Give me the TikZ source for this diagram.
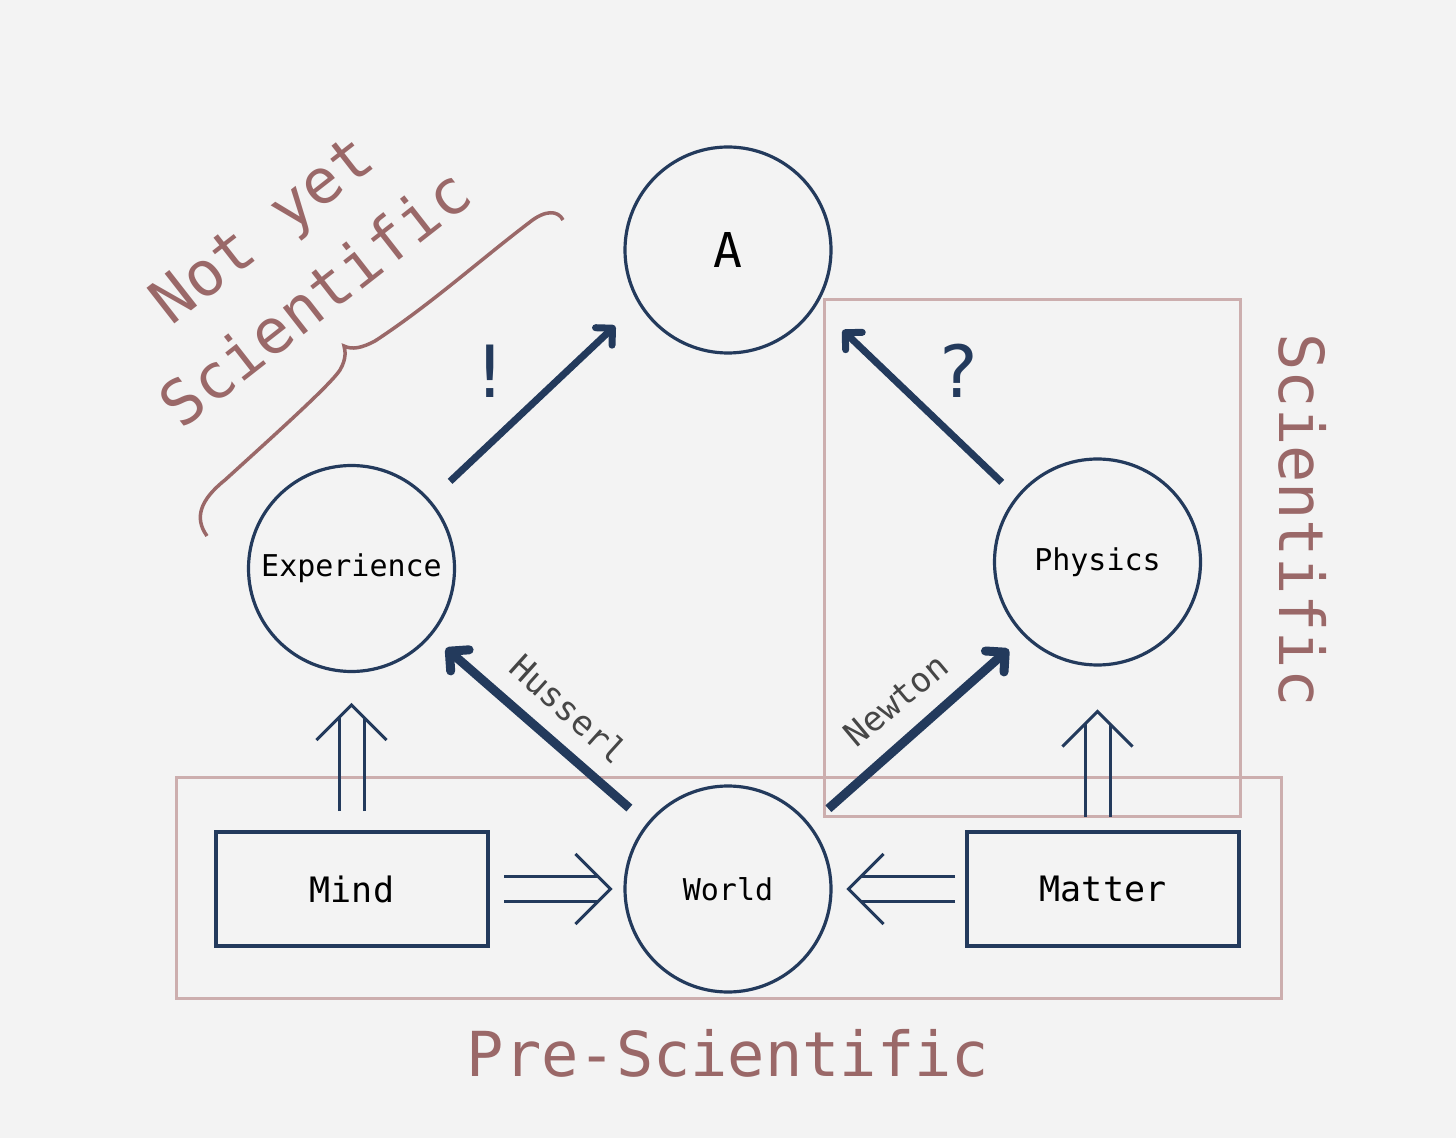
\documentclass[tikz,border=0pt]{standalone}
\usepackage{fontspec}
\setmainfont{DejaVu Sans Mono}
\usetikzlibrary{arrows.meta,calc}

\definecolor{navy}{RGB}{35,58,92}
\definecolor{rosetext}{RGB}{154,104,104}
\definecolor{roseline}{RGB}{204,174,174}
\definecolor{bgc}{RGB}{243,243,243}
\definecolor{labelgrey}{RGB}{70,70,70}

\tikzset{every picture/.style={line width=0.75pt}}
\tikzset{
  circ/.style={circle, draw=navy, line width=1.6pt, minimum size=103pt, inner sep=0pt, font=\fontsize{15}{18}\selectfont},
  boxn/.style={draw=navy, line width=2pt, minimum width=136pt, minimum height=57pt, inner sep=0pt, font=\fontsize{17.5}{21}\selectfont},
  thk/.style={draw=navy, line width=3.5pt, -{Straight Barb[round,length=6pt,width=12pt]}},
  thkr/.style={draw=navy, line width=4.5pt, -{Straight Barb[round,length=7pt,width=14pt]}},
  chev/.style={draw=navy, line width=1.5pt},
  zone/.style={draw=roseline, line width=1.5pt},
  tag/.style={text=rosetext, font=\fontsize{31}{44}\selectfont, inner sep=0pt, align=center},
  edgelabel/.style={text=labelgrey, font=\fontsize{17}{20}\selectfont, inner sep=0pt}
}

\begin{document}
\begin{tikzpicture}[x=0.5pt,y=0.5pt,yscale=-1,xscale=1]
    \fill[bgc] (0,0) rectangle (1456,1138);
    \useasboundingbox (0,0) rectangle (1456,1138);

    %zones
    \draw[zone] (176,777) rectangle (1281,998);
    \draw[zone] (824,300) rectangle (1240,816);

    %circles and boxes
    \node[circ, font=\fontsize{24}{28}\selectfont] (a) at (728,250) {A};
    \node[circ] (exp) at (351.5,568.5) {Experience};
    \node[circ] (phys) at (1097.5,562) {Physics};
    \node[circ] (world) at (728,889) {World};
    \node[boxn] (mind) at (352,889) {Mind};
    \node[boxn] (matter) at (1103,889) {Matter};

    %thick arrows
    \draw[thk, shorten <=13.5pt, shorten >=16pt] (exp.41.6) -- (a.211);
    \draw[thk, shorten <=10pt, shorten >=18pt] (phys.141) -- (a.328);
    \draw[thkr, shorten <=11.5pt, shorten >=9.5pt] (world.141.5) -- (exp.320);
    \draw[thkr, shorten <=12pt, shorten >=10pt] (world.38.5) -- (phys.225);

    %double arrows
    \coordinate (s1) at ($(exp.south |- mind.north)+(0,-19)$);
    \coordinate (t1) at ($(exp.south)+(0,32)$);
    \draw[chev] ($(s1)+(-12.5,0)$) -- ($(t1)+(-12.5,12)$) ($(s1)+(12.5,0)$) -- ($(t1)+(12.5,12)$);
    \draw[chev] (t1) ++(-35,35) -- (t1) -- ++(35,35);
    \coordinate (s2) at ($(phys.south |- matter.north)+(0,-13)$);
    \coordinate (t2) at ($(phys.south)+(0,45)$);
    \draw[chev] ($(s2)+(-12.5,0)$) -- ($(t2)+(-12.5,12)$) ($(s2)+(12.5,0)$) -- ($(t2)+(12.5,12)$);
    \draw[chev] (t2) ++(-35,35) -- (t2) -- ++(35,35);
    \coordinate (s3) at ($(mind.east)+(14,0)$);
    \coordinate (t3) at ($(world.west)+(-13,0)$);
    \draw[chev] ($(s3)+(0,-12.5)$) -- ($(t3)+(-12,-12.5)$) ($(s3)+(0,12.5)$) -- ($(t3)+(-12,12.5)$);
    \draw[chev] (t3) ++(-35,-35) -- (t3) -- ++(-35,35);
    \coordinate (s4) at ($(matter.west)+(-10,0)$);
    \coordinate (t4) at ($(world.east)+(16,0)$);
    \draw[chev] ($(s4)+(0,-12.5)$) -- ($(t4)+(12,-12.5)$) ($(s4)+(0,12.5)$) -- ($(t4)+(12,12.5)$);
    \draw[chev] (t4) ++(35,-35) -- (t4) -- ++(35,35);

    %brace
    \draw[rosetext, line width=1.75pt] (207,536) .. controls (194,518) and (200,500) .. (225,480)
        .. controls (280,430) and (330,385) .. (340,370)
        .. controls (347,358) and (345,350) .. (344,346)
        .. controls (352,350) and (362,348) .. (375,341)
        .. controls (430,305) and (480,260) .. (530,222)
        .. controls (545,210) and (558,210) .. (563,220);

    %labels
    \node[text=navy, font=\fontsize{36}{40}\selectfont, inner sep=0pt] (bang) at (490,371) {!};
    \node[text=navy, font=\fontsize{36}{40}\selectfont, inner sep=0pt] (query) at (958,371) {?};
    \node[edgelabel, rotate=-42] (husserl) at (569,709) {Husserl};
    \node[edgelabel, rotate=40] (newton) at (896,700) {Newton};
    \node[tag] (presci) at (728,1053) {Pre-Scientific};
    \node[tag, rotate=-90] (sci) at (1303,520) {Scientific};
    \node[tag, rotate=38] (notyet) at (288,263) {Not yet\\Scientific};

\end{tikzpicture}
\end{document}
